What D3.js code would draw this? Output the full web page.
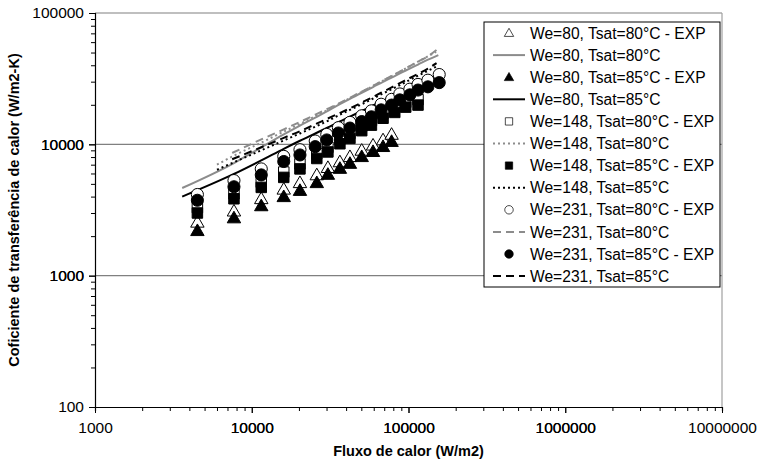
<!DOCTYPE html>
<html><head><meta charset="utf-8">
<script src="https://cdn.jsdelivr.net/npm/d3@7"></script>
<style>body{margin:0;background:#fff}svg{display:block;font-family:"Liberation Sans",Arial,sans-serif}</style>
</head><body><svg id="c" width="761" height="466"></svg>
<script>
// ---- data ----
const xTicks = [1000, 10000, 100000, 1000000, 10000000];
const yTicks = [100, 1000, 10000, 100000];

const xTri = [4500, 7700, 11500, 16000, 20300, 26000, 30600, 36500, 42300, 50300, 59400, 68800, 78000];
const we80_80_exp = [2550, 3100, 3850, 4550, 5100, 5850, 6650, 7350, 8050, 9000, 9850, 10800, 11900];
const we80_85_exp = [2200, 2750, 3400, 3990, 4450, 5100, 5900, 6550, 7150, 8050, 8800, 9600, 10500];

const xSq = [4500, 7700, 11500, 16000, 20300, 26000, 30600, 36500, 42300, 50300, 58000, 68800, 81700, 96000, 115000];
const we148_80_exp = [3300, 4200, 5150, 6150, 7100, 8500, 9500, 11000, 12100, 13800, 15200, 17200, 19100, 20900, 21900];
const we148_85_exp = [3000, 3850, 4700, 5600, 6500, 7800, 8750, 10100, 11100, 12700, 14000, 15800, 17500, 19200, 19900];

const xCi = [4500, 7700, 11500, 16000, 20300, 25400, 30100, 35700, 42300, 50300, 58000, 66900, 78000, 88000, 102000, 115000, 133000, 157000];
const we231_80_exp = [4150, 5300, 6500, 8100, 9100, 10600, 11900, 13400, 14700, 16500, 18000, 20200, 22000, 24200, 26300, 28600, 30800, 34000];
const we231_85_exp = [3750, 4750, 5850, 7400, 8300, 9600, 10800, 12200, 13300, 14900, 16200, 18300, 19900, 21800, 23800, 25900, 27400, 29500];

const xMod1 = [3600, 7700, 11500, 16000, 20300, 26000, 30600, 36500, 42300, 50300, 59400, 68800, 78000, 96000, 115000, 133000, 155000];
const we80_80_mod = [4650, 7200, 9500, 11900, 13900, 16200, 18000, 20200, 22200, 24700, 27300, 29900, 32200, 36500, 40500, 44100, 47800];
const we80_85_mod = [4000, 5950, 7550, 9250, 10650, 12250, 13450, 14950, 16250, 17950, 19750, 21450, 23050, 25950, 28650, 31050, 33500];

const xMod2 = [6000, 7700, 11500, 16000, 20300, 26000, 30600, 36500, 42300, 50300, 58000, 68800, 81700, 96000, 115000, 133000, 150000];
const we148_80_mod = [7000, 8200, 10300, 12500, 14300, 16600, 18300, 20500, 22500, 25100, 27400, 30600, 34000, 37800, 42600, 46800, 50500];
const we148_85_mod = [6400, 7300, 9000, 10700, 12100, 13800, 15100, 16800, 18300, 20200, 22000, 24400, 27000, 29800, 33300, 36300, 39000];

const xMod3 = [7500, 11500, 16000, 20300, 25400, 30100, 35700, 42300, 50300, 58000, 66900, 78000, 88000, 102000, 115000, 133000, 151000];
const we231_80_mod = [8600, 10900, 13000, 14800, 16800, 18500, 20400, 22600, 25200, 27500, 30100, 33200, 35800, 39400, 42600, 46800, 52300];
const we231_85_mod = [7700, 9500, 11200, 12600, 14200, 15600, 17100, 18800, 20800, 22600, 24700, 27100, 29200, 32000, 34400, 37700, 41500];

const legendLabels = [
  "We=80, Tsat=80°C - EXP", "We=80, Tsat=80°C",
  "We=80, Tsat=85°C - EXP", "We=80, Tsat=85°C",
  "We=148, Tsat=80°C - EXP", "We=148, Tsat=80°C",
  "We=148, Tsat=85°C - EXP", "We=148, Tsat=85°C",
  "We=231, Tsat=80°C - EXP", "We=231, Tsat=80°C",
  "We=231, Tsat=85°C - EXP", "We=231, Tsat=85°C"
];

// ---- series definitions ----
const series = [
  {type:"pt", x:xTri, y:we80_80_exp, sym:"tri", fill:false},
  {type:"ln", x:xMod1, y:we80_80_mod, color:"#8c8c8c", dash:null},
  {type:"pt", x:xTri, y:we80_85_exp, sym:"tri", fill:true},
  {type:"ln", x:xMod1, y:we80_85_mod, color:"#000", dash:null},
  {type:"pt", x:xSq, y:we148_80_exp, sym:"sq", fill:false},
  {type:"ln", x:xMod2, y:we148_80_mod, color:"#8c8c8c", dash:"2,3"},
  {type:"pt", x:xSq, y:we148_85_exp, sym:"sq", fill:true},
  {type:"ln", x:xMod2, y:we148_85_mod, color:"#000", dash:"2,3"},
  {type:"pt", x:xCi, y:we231_80_exp, sym:"ci", fill:false},
  {type:"ln", x:xMod3, y:we231_80_mod, color:"#8c8c8c", dash:"8,5"},
  {type:"pt", x:xCi, y:we231_85_exp, sym:"ci", fill:true},
  {type:"ln", x:xMod3, y:we231_85_mod, color:"#000", dash:"8,5"}
];

const svg = d3.select("#c");
const L = 95, R = 722, T = 13, B = 407;
const x = d3.scaleLog().domain([1000, 10000000]).range([L, R]);
const y = d3.scaleLog().domain([100, 100000]).range([B, T]);

// gridlines
svg.append("g").selectAll("line").data([1000, 10000, 100000]).join("line")
  .attr("x1", L).attr("x2", R).attr("y1", d => y(d)).attr("y2", d => y(d))
  .attr("stroke", "#808080").attr("stroke-width", 1.2);
svg.append("line").attr("x1", R).attr("x2", R).attr("y1", T).attr("y2", B)
  .attr("stroke", "#a0a0a0").attr("stroke-width", 1.2);

// axes
const minorX = [];
for (let d = 1000; d < 10000000; d *= 10) for (let k = 1; k <= 10; k++) minorX.push(d * k);
const minorY = [];
for (let d = 100; d < 100000; d *= 10) for (let k = 1; k <= 10; k++) minorY.push(d * k);

const xAxis = d3.axisBottom(x).tickValues(minorX).tickSizeOuter(0)
  .tickSize(4).tickFormat(d => xTicks.includes(d) ? d : "");
const gx = svg.append("g").attr("transform", `translate(0,${B})`).call(xAxis);
gx.selectAll(".tick line").attr("y2", d => xTicks.includes(d) ? 6 : 4);
gx.selectAll("text").attr("font-size", 15.5).attr("dy", "1.25em").attr("fill", "#000")
  .attr("font-family", "'Liberation Sans',Arial,sans-serif");
gx.select(".domain").attr("stroke", "#000").attr("stroke-width", 1.2);

const yAxis = d3.axisLeft(y).tickValues(minorY).tickSizeOuter(0)
  .tickSize(4).tickFormat(d => yTicks.includes(d) ? d : "");
const gy = svg.append("g").attr("transform", `translate(${L},0)`).call(yAxis);
gy.selectAll(".tick line").attr("x2", d => yTicks.includes(d) ? -6 : -4);
gy.selectAll("text").attr("font-size", 15.5).attr("x", -11).attr("fill", "#000")
  .attr("font-family", "'Liberation Sans',Arial,sans-serif");
gy.select(".domain").attr("stroke", "#000").attr("stroke-width", 1.2);

// titles
svg.append("text").attr("x", (L + R) / 2).attr("y", 456).attr("text-anchor", "middle")
  .attr("font-size", 14.5).attr("font-weight", "bold").text("Fluxo de calor (W/m2)");
svg.append("text").attr("transform", `translate(19,${(T + B) / 2}) rotate(-90)`)
  .attr("text-anchor", "middle").attr("font-size", 14.5).attr("font-weight", "bold")
  .text("Coficiente de transferência de calor (W/m2-K)");

// symbols
const symPath = {
  tri: d3.symbol().type(d3.symbolTriangle).size(78)(),
  sq: d3.symbol().type(d3.symbolSquare).size(110)(),
  ci: d3.symbol().type(d3.symbolCircle).size(115)()
};
function drawSym(g, s, cx, cy, scale) {
  g.append("path").attr("d", symPath[s.sym])
    .attr("transform", `translate(${cx},${cy}) scale(${scale})` + (s.sym === "tri" ? " translate(0,1)" : ""))
    .attr("fill", s.fill ? "#000" : "#fff").attr("stroke", "#000").attr("stroke-width", 1);
}

const plot = svg.append("g");
series.forEach(s => {
  const pts = s.x.map((v, i) => [v, s.y[i]]);
  if (s.type === "ln") {
    plot.append("path").datum(pts)
      .attr("d", d3.line().x(d => x(d[0])).y(d => y(d[1])).curve(d3.curveMonotoneX))
      .attr("fill", "none").attr("stroke", s.color).attr("stroke-width", 2)
      .attr("stroke-dasharray", s.dash);
  } else {
    const g = plot.append("g");
    pts.forEach(p => drawSym(g, s, x(p[0]), y(p[1]), 1));
  }
});

// legend
const lg = svg.append("g");
lg.append("rect").attr("x", 484).attr("y", 22).attr("width", 236).attr("height", 265)
  .attr("fill", "#fff").attr("stroke", "#000").attr("stroke-width", 1);
series.forEach((s, i) => {
  const cy = 33 + i * 22.1;
  if (s.type === "ln") {
    lg.append("line").attr("x1", 493).attr("x2", 525).attr("y1", cy).attr("y2", cy)
      .attr("stroke", s.color).attr("stroke-width", 2).attr("stroke-dasharray", s.dash);
  } else {
    drawSym(lg, s, 509, cy, 0.7);
  }
  lg.append("text").attr("x", 530).attr("y", cy).attr("dy", "0.36em")
    .attr("font-size", 15.6).text(legendLabels[i]);
});
</script></body></html>
